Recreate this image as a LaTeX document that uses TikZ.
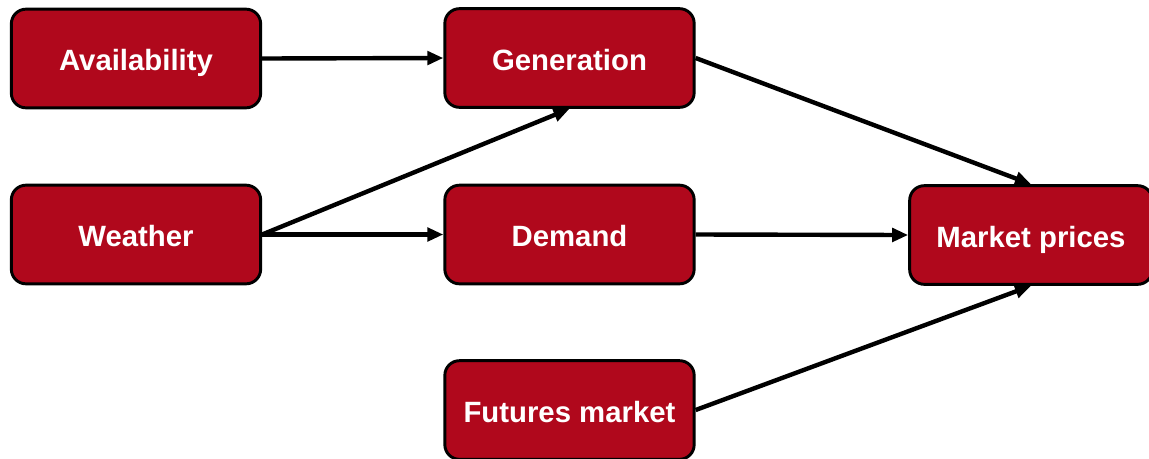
\documentclass[tikz,border=0pt]{standalone}
\usepackage{fontspec}
\setmainfont{Liberation Sans}
\usetikzlibrary{arrows.meta}
\definecolor{boxred}{RGB}{176,8,28}
\begin{document}
\begin{tikzpicture}[x=0.75pt,y=-0.75pt,
  factor/.style={draw=black, line width=2.2pt, fill=boxred, rounded corners=11pt,
    text=white, font=\bfseries\fontsize{22}{24}\selectfont,
    text height=19pt, text depth=1pt,
    minimum width=187pt, minimum height=74pt, inner sep=0pt},
  link/.style={line width=3.3pt, -{Triangle[length=12pt,width=10pt]}}]
  \useasboundingbox (0,0) rectangle (1149,458);
  \clip (0,0) rectangle (1149,458);
  % sources
  \node[factor] (avail) at (136,58.5) {Availability};
  \node[factor] (weather) at (136,234.5) {Weather};
  % intermediate drivers
  \node[factor] (gen) at (569.5,58) {Generation};
  \node[factor] (dem) at (569.5,234.5) {Demand};
  \node[factor] (fut) at (569.5,410) {Futures market};
  % outcome
  \node[factor, minimum width=182pt] (price) at (1031,235) {Market prices};
  % connectors
  \draw[link] (avail.east) -- (gen.west);
  \draw[link] (weather.east) -- (gen.south);
  \draw[link] (weather.east) -- (dem.west);
  \draw[link] (gen.east) -- (price.north);
  \draw[link] (dem.east) -- (price.west);
  \draw[link] (fut.east) -- (price.south);
\end{tikzpicture}
\end{document}
